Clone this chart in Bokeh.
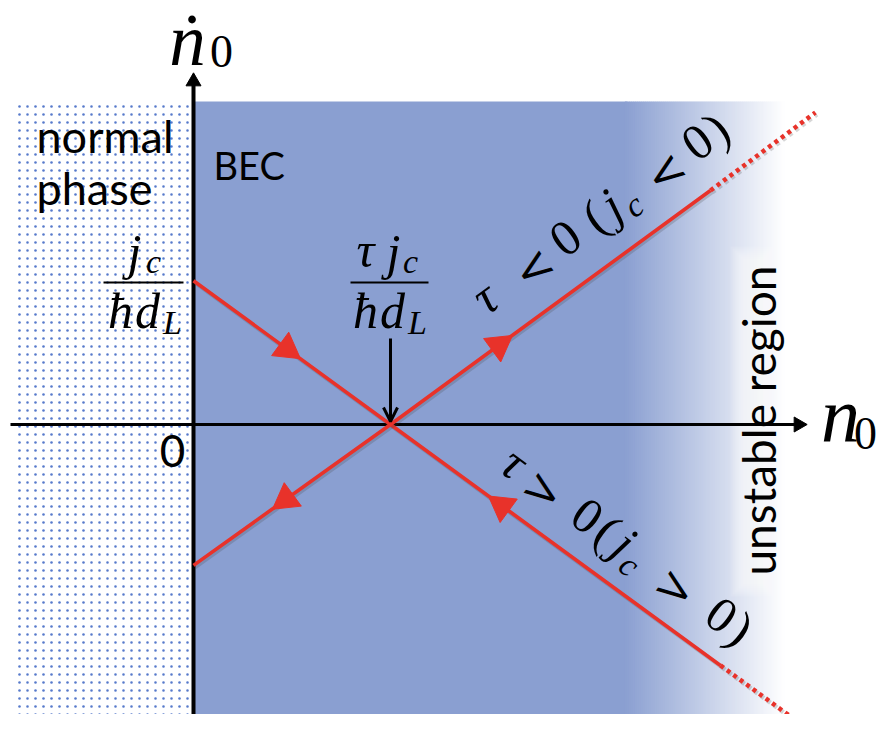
import numpy as np
from bokeh.plotting import figure
from bokeh.models import Range1d, Arrow, OpenHead, ColumnDataSource
from bokeh.core.properties import value, field
from bokeh.embed import file_html
from bokeh.resources import INLINE

# ---------------- data (diagram units: n0 in units of tau*j_c/(hbar d_L)) ----------------
fixed_point_n0 = 1.0                      # tau j_c/(hbar d_L)
tau_pos_n0 = [0.0, 1.0, 2.675]            # tau > 0 (j_c > 0) line, solid part
tau_pos_ndot = [0.73, 0.0, -1.223]
tau_pos_dot_n0 = [2.675, 3.107]           # dotted continuation
tau_pos_dot_ndot = [-1.223, -1.538]
tau_neg_n0 = [0.0, 1.0, 2.624]            # tau < 0 (j_c < 0) line, solid part
tau_neg_ndot = [-0.715, 0.0, 1.188]
tau_neg_dot_n0 = [2.624, 3.157]
tau_neg_dot_ndot = [1.188, 1.584]
# flow arrows: tip position, direction of travel along n0, slope of the line
arrow_n0 = [0.543, 1.497, 1.619, 0.401]
arrow_ndot = [0.334, -0.363, 0.452, -0.430]
arrow_dir = [1, -1, 1, -1]
arrow_slope = [-0.73, -0.73, 0.73, 0.73]
# regions
region_top = 1.64
normal_phase_left = -0.89
stable_end = 2.19
unstable_white = 3.0

# ---------------- figure geometry ----------------
S = 197.0                 # pixels per diagram unit
OX, OY = 193.0, 424.0     # origin in picture pixels
W, H = 878, 714
X0, Y0 = 0, 0             # picture position of the canvas corner


def dx(X):
    return (X - OX) / S


def dy(Y):
    return (OY - Y) / S


p = figure(width=W, height=H, x_range=Range1d(dx(X0), dx(X0 + W)), y_range=Range1d(dy(Y0 + H), dy(Y0)),
           output_backend="svg", toolbar_location=None, min_border=0,
           x_axis_location=None, y_axis_location=None, outline_line_color=None,
           background_fill_color="white", border_fill_color="white")
p.grid.visible = False
ybot = dy(Y0 + H) - 0.05

RED = "#E8322A"
BLUE = (138, 159, 209)

# normal phase (dotted texture)
gx, gy = np.meshgrid(np.arange(19, 188, 8), np.arange(106, Y0 + H + 8, 8))
p.scatter(x=dx(gx.ravel()), y=dy(gy.ravel()), size=2.6, marker="circle", fill_color="#3a63c2",
          line_color=None, fill_alpha=0.85)
# BEC region
p.quad(left=0, right=stable_end + 0.01, top=region_top, bottom=ybot, fill_color="#%02x%02x%02x" % BLUE,
       line_color=None)
edges = np.linspace(stable_end, unstable_white, 81)
mids = (edges[:-1] + edges[1:]) / 2
tt = (mids - stable_end) / (unstable_white - stable_end)
cols = ["#%02x%02x%02x" % tuple(int(round(b + (255 - b) * t)) for b in BLUE) for t in tt]
p.quad(left=edges[:-1], right=edges[1:] + 0.003, top=region_top, bottom=ybot, fill_color=cols, line_color=None)
# soft white halo behind "unstable region"
for i in range(7):
    g = 12 - 2 * i
    p.quad(left=dx(742 - g), right=dx(786 + g), top=dy(258 - g), bottom=dy(584 + g), fill_color="white",
           fill_alpha=0.11, line_color=None)

# axes
p.segment(x0=[dx(10), 0], y0=[0, ybot], x1=[dx(800), 0], y1=[0, dy(82)], line_color="black",
          line_width=[3, 4])
p.scatter(x=[dx(806) - 8 / S, 0], y=[0, dy(73) - 8 / S], marker="triangle", size=15,
          angle=[-np.pi / 2, 0], fill_color="black", line_color="black")

# red trajectories (with soft shadow)
for xs, ys in [(tau_pos_n0, tau_pos_ndot), (tau_neg_n0, tau_neg_ndot)]:
    p.line([x + 1.5 / S for x in xs], [y - 2.0 / S for y in ys], line_color="#444444", line_alpha=0.22, line_width=4)
    p.line(xs, ys, line_color=RED, line_width=3.6)
for xs, ys in [(tau_pos_dot_n0, tau_pos_dot_ndot), (tau_neg_dot_n0, tau_neg_dot_ndot)]:
    p.line([x + 1.5 / S for x in xs], [y - 2.0 / S for y in ys], line_color="#444444", line_alpha=0.22,
           line_width=4.5, line_dash="4 4")
    p.line(xs, ys, line_color=RED, line_width=4.5, line_dash="4 4")

# flow arrowheads
hx, hy, ha = [], [], []
TRI = 29
for n, nd, d, s in zip(arrow_n0, arrow_ndot, arrow_dir, arrow_slope):
    vx, vy = d, d * s
    L = np.hypot(vx, vy)
    ux, uy = vx / L, vy / L
    off = 0.577 * TRI / S
    hx.append(n - ux * off)
    hy.append(nd - uy * off)
    ha.append(np.arctan2(uy, ux) - np.pi / 2)
p.scatter(x=hx, y=hy, marker="triangle", size=TRI, angle=ha, fill_color=RED, line_color=RED)

# black arrow to the fixed point
p.add_layout(Arrow(end=OpenHead(size=14, line_width=3, line_color="black"), x_start=fixed_point_n0,
                   y_start=dy(338), x_end=fixed_point_n0, y_end=dy(421), line_width=3, line_color="black"))

# fraction bars
p.segment(x0=[dx(103), dx(350)], y0=[dy(282)] * 2, x1=[dx(183), dx(428)], y1=[dy(282)] * 2,
          line_color="black", line_width=2)

# ---------------- texts ----------------
MATH = "Liberation Serif"
REL = "DejaVu Serif"
SANS = "Lato"
MAIN, SUB, RELS = 50, 34, 46
K = {MATH: 0.35, REL: 0.35, SANS: 0.40}     # baseline -> em-box middle, in em

groups = {}


def put(font, style, X, Y, txt, sz, a=0.0, align="center"):
    groups.setdefault((font, style, align), []).append((X, Y, txt, sz, a))


def along(ref, ang, items):
    a = np.radians(ang)
    for txt, t, perp, sz, font, style in items:
        X = ref[0] + t * np.cos(a) + perp * np.sin(a)
        Y = ref[1] - t * np.sin(a) + perp * np.cos(a)
        put(font, style, X, Y, txt, sz, a)


along((618.0, 220.6), 36.0, [
    ("τ", -153.2, 0, MAIN, MATH, "italic"), ("<", -96.0, 4, RELS, REL, "normal"),
    ("0", -52.9, 0, MAIN, MATH, "normal"), ("(", -17.0, 0, MAIN, MATH, "normal"),
    ("j", 4.0, 0, MAIN, MATH, "italic"), ("c", 21.5, 8, SUB, MATH, "italic"),
    ("<", 67.0, 4, RELS, REL, "normal"), ("0", 110.3, 0, MAIN, MATH, "normal"),
    (")", 134.1, 0, MAIN, MATH, "normal")])
along((617.5, 559.7), -36.5, [
    ("τ", -141.3, 0, MAIN, MATH, "italic"), (">", -101.5, 4, RELS, REL, "normal"),
    ("0", -51.0, 0, MAIN, MATH, "normal"), ("(", -26.0, 0, MAIN, MATH, "normal"),
    ("j", -5.0, 0, MAIN, MATH, "italic"), ("c", 12.0, 8.8, SUB, MATH, "italic"),
    (">", 63.0, 4, RELS, REL, "normal"), ("0", 115.9, 0, MAIN, MATH, "normal"),
    (")", 140.0, 0, MAIN, MATH, "normal")])

# fractions
for X, Y, txt, sz in [(134, 269, "j", MAIN), (153, 273, "c", SUB), (120, 328, "ħ", MAIN),
                      (147, 328, "d", MAIN), (172, 334, "L", SUB),
                      (365, 267, "τ", MAIN), (393, 269, "j", MAIN), (410, 273, "c", SUB),
                      (365, 328, "ħ", MAIN), (392, 328, "d", MAIN), (417, 334, "L", SUB)]:
    put(MATH, "italic", X, Y, txt, sz)
# axis labels
put(MATH, "italic", 187, 66, "ṅ", 73)
put(MATH, "normal", 221, 67, "0", 46)
put(MATH, "italic", 840, 442, "n", 78)
put(MATH, "normal", 865, 449, "0", 46)

put(SANS, "normal", 36, 153, "normal", 45, align="left")
put(SANS, "normal", 36, 205, "phase", 45, align="left")
put(SANS, "normal", 213, 180, "BEC", 38, align="left")
put(SANS, "normal", 172, 468, "0", 44)
put(SANS, "normal", 776, 420, "unstable region", 46, np.pi / 2)

for (font, style, align), rows in groups.items():
    k = K[font]
    xs, ys = [], []
    for X, Y, t, sz, a in rows:
        off = k * sz
        xs.append(dx(X - off * np.sin(a)))
        ys.append(dy(Y - off * np.cos(a)))
    src = ColumnDataSource(dict(x=xs, y=ys, text=[r[2] for r in rows], size=["%dpx" % r[3] for r in rows],
                                angle=[r[4] for r in rows]))
    p.text(x="x", y="y", text="text", angle="angle", text_font_size=field("size"), source=src,
           text_font=value(font), text_font_style=style, text_align=align, text_baseline="middle",
           text_color="black")

open("out.html", "w").write(file_html(p, INLINE))
